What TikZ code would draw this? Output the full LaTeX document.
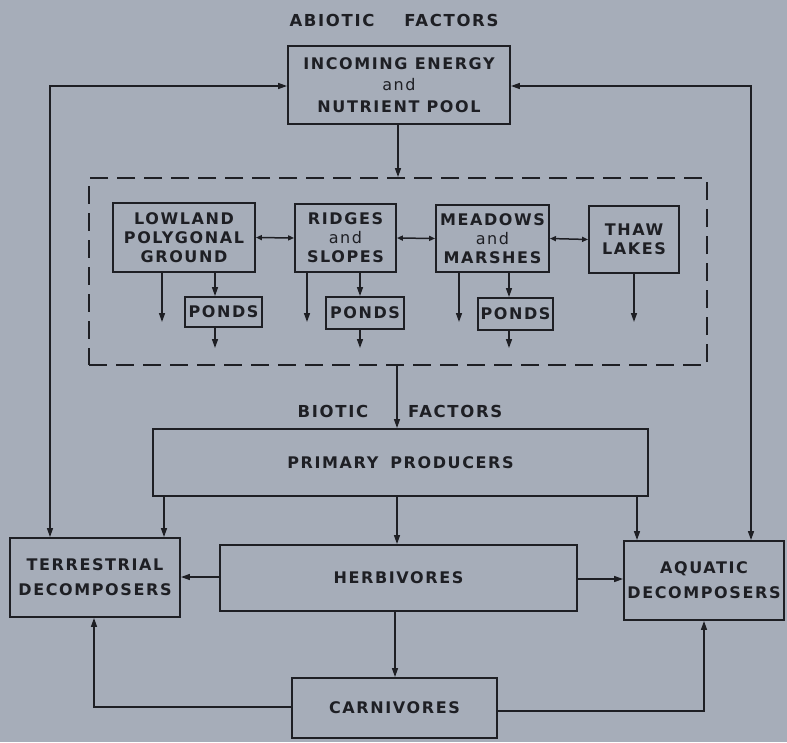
\documentclass[tikz,border=0pt]{standalone}
\usepackage{fontspec}
\setmainfont{DejaVu Sans}[LetterSpace=10, BoldFont={DejaVu Sans Bold}]
\usetikzlibrary{arrows.meta}
\definecolor{bg}{HTML}{A6ADB9}
\definecolor{ink}{HTML}{1E1F24}
\begin{document}
\begin{tikzpicture}[x=1pt,y=-1pt,
  box/.style={draw=ink, line width=1.9pt, inner sep=0pt, align=center, text=ink,
    font=\fontsize{16}{19}\selectfont\bfseries},
  sz/.style 2 args={minimum width=#1pt, minimum height=#2pt},
  lbl/.style={text=ink, inner sep=0pt, font=\fontsize{16.5}{19}\selectfont\bfseries},
  arr/.style={draw=ink, line width=1.5pt, -{Triangle[length=9pt,width=6pt]}},
  dbl/.style={draw=ink, line width=1.5pt, {Triangle[length=9pt,width=6pt]}-{Triangle[length=9pt,width=6pt]}},
  sdbl/.style={draw=ink, line width=1.5pt, {Triangle[length=6pt,width=5pt]}-{Triangle[length=6pt,width=5pt]}}
]
\fill[bg] (0,0) rectangle (787,742);
\useasboundingbox (0,0) rectangle (787,742);

% abiotic
\node[lbl] (abio) at (394,20) {ABIOTIC\hspace{30pt}FACTORS};
\node[box, sz={222}{78}, font=\fontsize{16}{21.5}\selectfont\bfseries] (inc) at (399,85) {INCOMING ENERGY\\{\mdseries and}\\NUTRIENT POOL};
\node[draw=ink, line width=1.9pt, dash pattern=on 18pt off 9pt, sz={618}{187}] (region) at (398,271.5) {};

\node[box, sz={142}{69}] (low) at (184,237.5) {LOWLAND\\POLYGONAL\\GROUND};
\node[box, sz={101}{68}] (rid) at (345.5,238) {RIDGES\\{\mdseries and}\\SLOPES};
\node[box, sz={113}{67}] (mea) at (492.5,238.5) {MEADOWS\\{\mdseries and}\\MARSHES};
\node[box, sz={90}{67}] (thaw) at (634,239.5) {THAW\\LAKES};
\node[box, sz={77}{30}] (p1) at (223.5,312) {PONDS};
\node[box, sz={78}{32}] (p2) at (365,313) {PONDS};
\node[box, sz={75}{32}] (p3) at (515.5,314) {PONDS};

% biotic
\node[lbl] (bio) at (400,411) {BIOTIC\hspace{40pt}FACTORS};
\node[box, sz={495}{67}] (prim) at (400.5,462.5) {PRIMARY\hspace{12pt}PRODUCERS};
\node[box, sz={170}{79}, font=\fontsize{16}{25}\selectfont\bfseries] (terr) at (95,577.5) {TERRESTRIAL\\DECOMPOSERS};
\node[box, sz={357}{66}] (herb) at (398.5,578) {HERBIVORES};
\node[box, sz={160}{79}, font=\fontsize{16}{25}\selectfont\bfseries] (aq) at (704,580.5) {AQUATIC\\DECOMPOSERS};
\node[box, sz={205}{60}] (carn) at (394.5,708) {CARNIVORES};

% coordinates
\coordinate (lc) at (50,86);
\coordinate (rc) at (751,86);
\coordinate (xin) at (398,0);
\coordinate (l1) at (162,322);
\coordinate (l2) at (215,348);
\coordinate (r1) at (307,322);
\coordinate (r2) at (360,348);
\coordinate (m1) at (459,322);
\coordinate (m2) at (509,348);
\coordinate (t1) at (634,322);
\coordinate (xo) at (397,0);
\coordinate (xpt) at (164,0);
\coordinate (xpa) at (637,0);
\coordinate (yht) at (0,577);
\coordinate (yha) at (0,579);
\coordinate (xhc) at (395,0);
\coordinate (yct) at (0,707);
\coordinate (xct) at (94,0);
\coordinate (yca) at (0,711);
\coordinate (xca) at (704,0);

% connectors
\draw[dbl] (inc.west |- lc) -| (terr.north -| lc);
\draw[dbl] (inc.east |- rc) -| (aq.north -| rc);
\draw[arr] (inc.south -| xin) -- (region.north -| xin);

\draw[sdbl] (low.east) -- (rid.west);
\draw[sdbl] (rid.east) -- (mea.west);
\draw[sdbl] (mea.east) -- (thaw.west);

\draw[arr] (low.south -| l1) -- (l1);
\draw[arr] (low.south -| l2) -- (p1.north -| l2);
\draw[arr] (p1.south -| l2) -- (l2);
\draw[arr] (rid.south -| r1) -- (r1);
\draw[arr] (rid.south -| r2) -- (p2.north -| r2);
\draw[arr] (p2.south -| r2) -- (r2);
\draw[arr] (mea.south -| m1) -- (m1);
\draw[arr] (mea.south -| m2) -- (p3.north -| m2);
\draw[arr] (p3.south -| m2) -- (m2);
\draw[arr] (thaw.south -| t1) -- (t1);

\draw[arr] (region.south -| xo) -- (prim.north -| xo);
\draw[arr] (prim.south -| xpt) -- (terr.north -| xpt);
\draw[arr] (prim.south -| xo) -- (herb.north -| xo);
\draw[arr] (prim.south -| xpa) -- (aq.north -| xpa);
\draw[arr] (herb.west |- yht) -- (terr.east |- yht);
\draw[arr] (herb.east |- yha) -- (aq.west |- yha);
\draw[arr] (herb.south -| xhc) -- (carn.north -| xhc);
\draw[arr] (carn.west |- yct) -| (terr.south -| xct);
\draw[arr] (carn.east |- yca) -| (aq.south -| xca);
\end{tikzpicture}
\end{document}
